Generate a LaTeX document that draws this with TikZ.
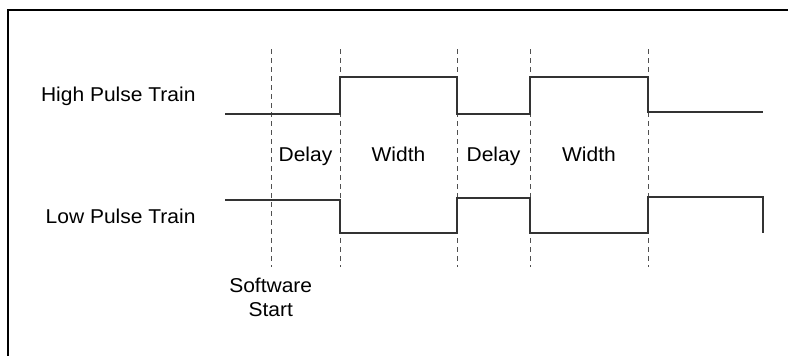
\documentclass[tikz,border=0pt]{standalone}
\usepackage{fontspec}
\setmainfont[FakeStretch=1.05]{Liberation Sans}
\usepackage{xcolor}
\usepackage{tikz}
\definecolor{sigline}{RGB}{51, 51, 51}
\definecolor{markline}{RGB}{80, 80, 80}

\begin{document}
\begin{tikzpicture}[x=1pt,y=-1pt,font=\fontsize{20}{24}\selectfont]
                \useasboundingbox (0,0) rectangle (788,356);
                \draw[line width=2pt] (8,356) -- (8,10) -- (788,10);

                % time marks
                \foreach \tx in {271,340,457,530,648}
                    \draw[markline,line width=1pt,dash pattern=on 5pt off 4pt] (\tx,49) -- (\tx,267);

                % signals
                \draw[sigline,line width=1.2pt] (225,114) -- (340,114) -- (340,77) -- (457,77) -- (457,114)
                    -- (530,114) -- (530,77) -- (648,77) -- (648,112) -- (763,112);
                \draw[sigline,line width=1.2pt] (225,200) -- (340,200) -- (340,233) -- (457,233) -- (457,198)
                    -- (530,198) -- (530,233) -- (648,233) -- (648,197) -- (763,197) -- (763,233);

                \node[anchor=base east] (hightrain) at (199,101) {High Pulse Train};
                \node[anchor=base east] (lowtrain) at (199,223.5) {Low Pulse Train};
                \node[anchor=base] (delayA) at (305.5,161) {Delay};
                \node[anchor=base] (widthA) at (398.5,161) {Width};
                \node[anchor=base] (delayB) at (493.5,161) {Delay};
                \node[anchor=base] (widthB) at (589,161) {Width};
                \node[anchor=base,align=center] (swstart) at (270.7,316.5) {Software\\[0pt]Start};
            \end{tikzpicture}
\end{document}
